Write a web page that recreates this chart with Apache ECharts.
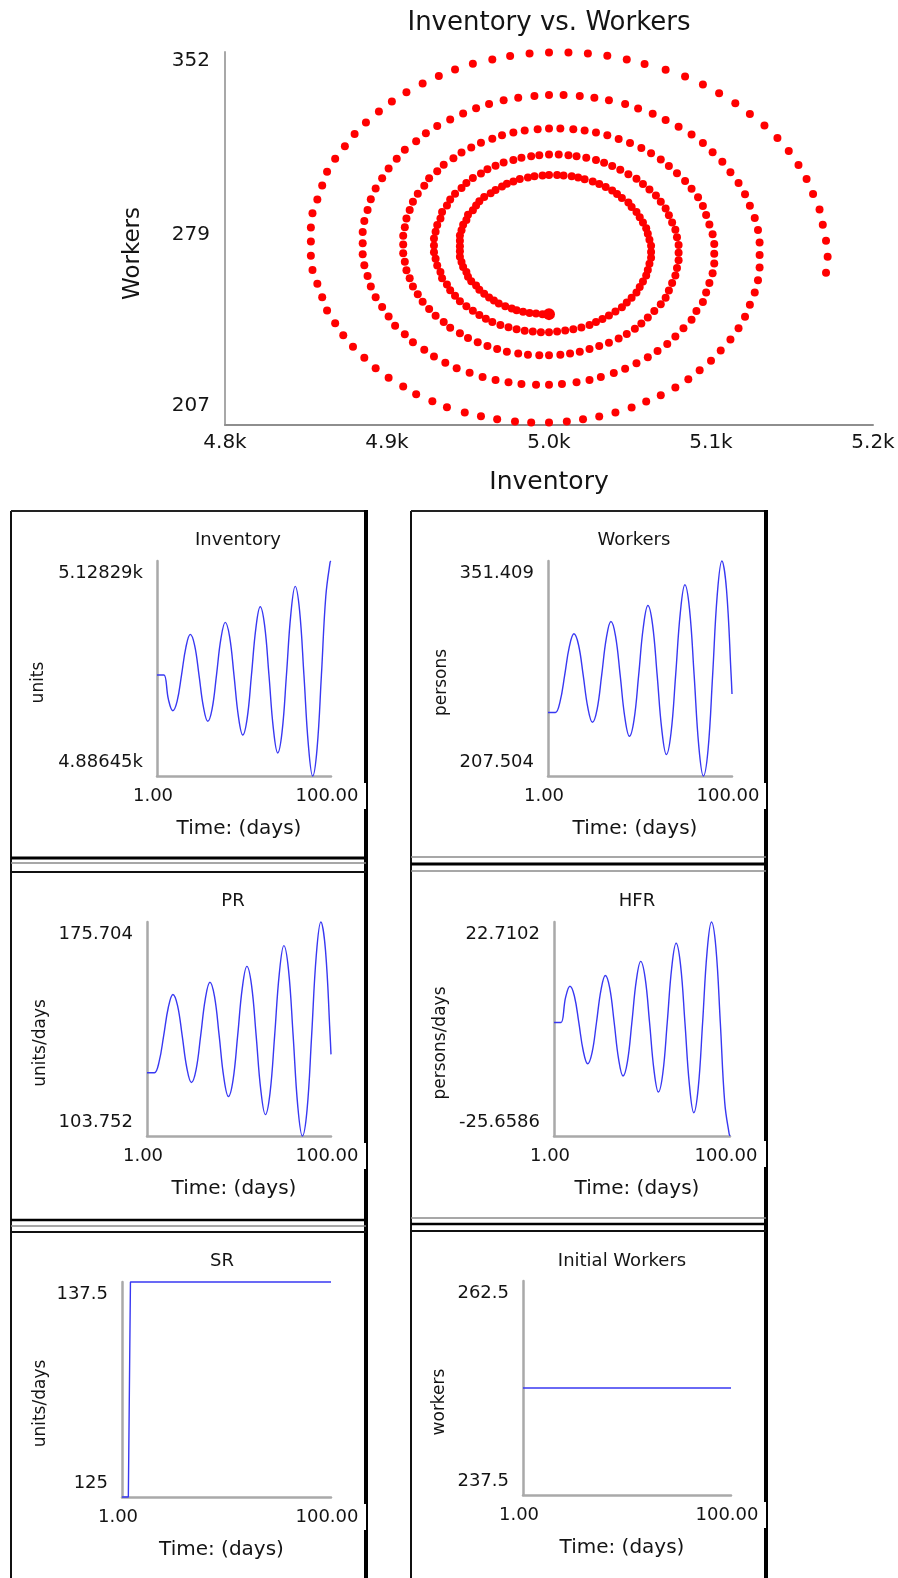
<!DOCTYPE html>
<html>
<head>
<meta charset="utf-8">
<script src="https://cdn.jsdelivr.net/npm/echarts@6/dist/echarts.min.js"></script>
<style>
  html, body { margin: 0; padding: 0; background: #ffffff; }
  #chart { width: 898px; height: 1578px; }
</style>
</head>
<body>
<div id="chart"></div>
<script>
// ---- Phase plot: Inventory (x) against Workers (y), one dot per saved step ----
const phaseInventory = [
  5000,5000,5000,5000,
  5000,4996,4992,4988,4984,4980,4977,4973,4969,4966,4963,4960,4957,4955,4952,4950,4949,4947,4946,4945,4945,4945,4945,4945,4946,4947,4949,4950,4953,4955,4957,4960,4964,4967,4971,4974,4978,4982,4987,4991,4996,
  5000,5005,5009,5014,5018,5022,5027,5031,5035,5039,5042,5045,5049,5051,5054,5056,5058,5060,5061,5062,5063,5063,5063,5062,5061,5060,5058,5056,5054,5051,5048,5045,5041,5037,5033,5029,5025,5020,5015,5010,5005,
  5000,4995,4990,4985,4980,4975,4970,4965,4961,4957,4953,4949,4945,4942,4939,4937,4934,4933,4931,4930,4929,4929,4929,4930,4931,4933,4934,4937,4939,4942,4946,4949,4953,4958,4962,4967,4972,4978,4983,4989,4994,
  5000,5006,5012,5017,5023,5029,5034,5039,5044,5049,5054,5058,5062,5066,5069,5072,5074,5076,5078,5079,5080,5080,5080,5079,5078,5076,5074,5072,5069,5065,5061,5057,5053,5048,5043,5037,5031,5025,5019,5013,5007,
  5000,4994,4987,4981,4974,4968,4962,4956,4950,4945,4939,4935,4930,4926,4922,4919,4916,4914,4912,4911,4910,4910,4910,4911,4912,4914,4916,4919,4923,4926,4931,4935,4941,4946,4952,4958,4965,4971,4978,4985,4993,
  5000,5007,5015,5022,5029,5036,5043,5050,5057,5063,5069,5074,5079,5084,5088,5092,5095,5097,5099,5101,5102,5102,5102,5101,5099,5097,5095,5091,5088,5083,5078,5073,5067,5061,5054,5047,5040,5032,5025,5017,5008,
  5000,4992,4983,4975,4967,4959,4951,4943,4936,4929,4923,4916,4911,4905,4901,4897,4893,4890,4888,4886,4885,4885,4885,4886,4888,4890,4893,4897,4901,4906,4911,4918,4924,4931,4939,4947,4955,4963,4972,4981,4991,
  5000,5009,5019,5028,5037,5047,5055,5064,5072,5080,5088,5095,5101,5107,5112,5117,5121,5124,5127,5129,5130,5130,5130,5129,5127,5124,5121,5117,5112,5106,5100,5093,5086,5078,5069,5060,5051,5041,5031,5021,5011,
  5000,4989,4979,4968,4958,4948,4937,4928,4918,4910,4901,4893,4886,4879,4873,4868,4863,4860,4857,4854,4853,4853,4853,4854,4857,4860,4863,4868,4874,4880,4887,4895,4903,4912,4922,4932,4942,4953,4965,4976,4988,
  5000,5012,5024,5036,5048,5059,5072,5084,5095,5105,5115,5124,5133,5141,5148,5154,5159,5163,5167,5169,5171,5172,5171
];
const phaseWorkers = [
  250.1,250.1,250.1,250.1,
  250.1,250.1,250.3,250.5,251.0,251.6,252.3,253.2,254.2,255.4,256.6,258.0,259.6,261.2,262.9,264.6,266.5,268.4,270.4,272.4,274.5,276.5,278.6,280.7,282.7,284.8,286.7,288.7,290.5,292.3,294.0,295.6,297.1,298.4,299.7,300.8,301.7,302.6,303.2,303.7,304.0,
  304.2,304.2,304.0,303.7,303.2,302.5,301.7,300.7,299.5,298.2,296.8,295.2,293.5,291.7,289.8,287.8,285.7,283.5,281.3,279.0,276.7,274.3,272.0,269.7,267.3,265.1,262.8,260.6,258.5,256.5,254.6,252.8,251.1,249.6,248.2,247.0,245.9,244.9,244.2,243.7,243.3,
  243.1,243.1,243.3,243.6,244.2,245.0,245.9,247.0,248.3,249.8,251.4,253.2,255.1,257.2,259.4,261.6,264.0,266.5,269.0,271.6,274.2,276.8,279.5,282.1,284.7,287.3,289.8,292.3,294.7,296.9,299.1,301.1,303.0,304.8,306.4,307.8,309.0,310.0,310.9,311.5,311.9,
  312.2,312.2,311.9,311.5,310.9,310.0,308.9,307.7,306.2,304.5,302.7,300.7,298.5,296.2,293.8,291.2,288.5,285.7,282.9,280.0,277.0,274.0,271.0,268.0,265.1,262.2,259.3,256.5,253.9,251.3,248.8,246.5,244.4,242.4,240.6,239.0,237.7,236.5,235.5,234.8,234.3,
  234.1,234.1,234.3,234.8,235.5,236.5,237.7,239.2,240.8,242.7,244.8,247.0,249.5,252.1,254.9,257.8,260.8,264.0,267.2,270.5,273.8,277.2,280.6,283.9,287.3,290.6,293.8,296.9,300.0,302.9,305.6,308.2,310.7,312.9,314.9,316.7,318.3,319.6,320.7,321.5,322.0,
  322.3,322.3,322.0,321.5,320.7,319.6,318.2,316.6,314.7,312.6,310.2,307.7,304.9,301.9,298.8,295.5,292.1,288.6,284.9,281.2,277.4,273.6,269.8,266.0,262.2,258.5,254.8,251.3,247.9,244.6,241.4,238.5,235.8,233.3,231.0,228.9,227.2,225.7,224.5,223.6,222.9,
  222.6,222.6,222.9,223.6,224.5,225.7,227.3,229.1,231.2,233.6,236.3,239.2,242.3,245.6,249.2,252.9,256.7,260.8,264.9,269.1,273.4,277.7,282.0,286.3,290.6,294.8,298.9,302.9,306.7,310.5,314.0,317.3,320.4,323.2,325.8,328.1,330.1,331.8,333.2,334.2,334.9,
  335.3,335.3,334.9,334.2,333.2,331.8,330.0,328.0,325.6,322.9,319.9,316.6,313.0,309.3,305.3,301.1,296.7,292.2,287.5,282.8,277.9,273.1,268.2,263.3,258.5,253.7,249.1,244.6,240.2,236.0,232.0,228.3,224.8,221.6,218.6,216.1,213.8,211.9,210.3,209.2,208.4,
  208.0,208.0,208.4,209.2,210.4,211.9,213.9,216.2,219.0,222.0,225.4,229.1,233.1,237.4,241.9,246.6,251.5,256.7,261.9,267.3,272.8,278.3,283.8,289.3,294.7,300.1,305.4,310.5,315.4,320.1,324.6,328.9,332.8,336.4,339.8,342.7,345.2,347.4,349.1,350.4,351.4,
  351.8,351.8,351.4,350.5,349.1,347.3,345.1,342.5,339.4,336.0,332.1,327.9,323.4,318.6,313.5,308.1,302.6,296.8,290.8,284.8,278.6,272.4,266.2
];
const inventoryTicks = [4800, 4900, 5000, 5100, 5200];
const inventoryTickText = ['4.8k', '4.9k', '5.0k', '5.1k', '5.2k'];
const workerTicks = [207, 279.5, 352];
const workerTickText = ['207', '279', '352'];

// ---- Time series (days) ----
const days = [1, 3, 5, 7.49, 9.98, 12.46, 14.95, 17.44, 19.93, 22.41, 24.9, 27.39, 29.88, 32.36, 34.85, 37.34,
  39.83, 42.31, 44.8, 47.29, 49.78, 52.26, 54.75, 57.24, 59.73, 62.21, 64.7, 67.19, 69.68, 72.16, 74.65,
  77.14, 79.63, 82.11, 84.6, 87.09, 89.58, 92.06, 94.55, 97.04, 99.53, 100];
const inventory = [5000, 5000, 5000, 4972.6, 4959.9, 4970.7, 5000, 5031.2, 5045.7, 5033.4, 5000, 4964.4, 4948.0,
  4962.0, 5000, 5040.6, 5059.3, 5043.3, 5000, 4953.8, 4932.5, 4950.7, 5000, 5052.6, 5076.9, 5056.1, 5000,
  4940.0, 4912.4, 4936.0, 5000, 5068.3, 5099.8, 5072.9, 5000, 4922.2, 4886.45, 4917.0, 5000, 5088.6, 5127.2, 5128.29];
const workers = [250, 250, 250, 257.3, 275.0, 293.9, 302.7, 295.2, 275.0, 253.4, 243.5, 252.0, 275.0, 299.6,
  310.9, 301.2, 275.0, 247.0, 234.1, 245.1, 275.0, 306.9, 321.6, 309.0, 275.0, 238.7, 221.9, 236.3, 275.0,
  316.4, 335.5, 319.2, 275.0, 227.8, 207.504, 224.7, 275.0, 328.7, 351.409, 332.3, 275.0, 262.4];
const productionRate = [125, 125, 125, 128.65, 137.5, 146.95, 151.35, 147.6, 137.5, 126.7, 121.75, 126.0, 137.5,
  149.8, 155.45, 150.6, 137.5, 123.5, 117.05, 122.55, 137.5, 153.45, 160.8, 154.5, 137.5, 119.35, 110.95,
  118.15, 137.5, 158.2, 167.75, 159.6, 137.5, 113.9, 103.752, 112.35, 137.5, 164.35, 175.704, 166.15, 137.5, 131.2];
const hiringRate = [0, 0, 0, 5.61, 8.20, 5.99, 0, -6.39, -9.34, -6.82, 0, 7.28, 10.63, 7.77, 0, -8.29, -12.11,
  -8.85, 0, 9.44, 13.80, 10.08, 0, -10.76, -15.72, -11.48, 0, 12.25, 17.90, 13.08, 0, -13.95, -20.39, -14.89,
  0, 15.90, 22.7102, 16.96, 0, -18.11, -25.2, -25.6586];
const salesDays = [1, 4, 5, 100];
const salesRate = [125, 125, 137.5, 137.5];
const initialDays = [1, 100];
const initialWorkers = [250, 250];
const timeTicks = [1, 100];
const timeTickText = ['1.00', '100.00'];

const panels = [
  { title: 'Inventory', unit: 'units', t: days, v: inventory, range: [4886.45, 5128.29], rangeText: ['4.88645k', '5.12829k'], smooth: true },
  { title: 'Workers', unit: 'persons', t: days, v: workers, range: [207.504, 351.409], rangeText: ['207.504', '351.409'], smooth: true },
  { title: 'PR', unit: 'units/days', t: days, v: productionRate, range: [103.752, 175.704], rangeText: ['103.752', '175.704'], smooth: true },
  { title: 'HFR', unit: 'persons/days', t: days, v: hiringRate, range: [-25.6586, 22.7102], rangeText: ['-25.6586', '22.7102'], smooth: true },
  { title: 'SR', unit: 'units/days', t: salesDays, v: salesRate, range: [125, 137.5], rangeText: ['125', '137.5'], smooth: false },
  { title: 'Initial Workers', unit: 'workers', t: initialDays, v: initialWorkers, range: [237.5, 262.5], rangeText: ['237.5', '262.5'], smooth: false }
];

// ---- Layout ----
const FONT = 'DejaVu Sans';
const INK = '#141414';
const panelLayout = [
  { grid: { left: 157, top: 561, width: 174, height: 215 }, nameGap: 110, titleAt: [238, 540] },
  { grid: { left: 548, top: 561, width: 184, height: 215 }, nameGap: 98, titleAt: [634, 540] },
  { grid: { left: 147, top: 922, width: 184, height: 214 }, nameGap: 98, titleAt: [233, 901] },
  { grid: { left: 554, top: 922, width: 176, height: 214 }, nameGap: 105, titleAt: [637, 901] },
  { grid: { left: 122, top: 1282, width: 209, height: 215 }, nameGap: 73, titleAt: [222, 1261] },
  { grid: { left: 523, top: 1281, width: 208, height: 214 }, nameGap: 75, titleAt: [622, 1261] }
];
// window columns: vertical edges plus the horizontal rules between stacked windows
const columns = [
  { left: 11, right: 366, top: 511,
    rules: [ { y: 858, w: 3, c: '#000' }, { y: 863, w: 1.5, c: '#8a8a8a' }, { y: 872, w: 2, c: '#111' },
             { y: 1220, w: 2.5, c: '#000' }, { y: 1226, w: 1.5, c: '#8a8a8a' }, { y: 1232, w: 2, c: '#111' } ],
    notches: [796, 1156, 1517] },
  { left: 411, right: 766, top: 511,
    rules: [ { y: 857, w: 1.5, c: '#8a8a8a' }, { y: 864, w: 3, c: '#000' }, { y: 871, w: 1.5, c: '#8a8a8a' },
             { y: 1218, w: 1.5, c: '#8a8a8a' }, { y: 1224, w: 2.5, c: '#000' }, { y: 1231, w: 2, c: '#111' } ],
    notches: [796, 1154, 1515] }
];

function findIndex(list, v) {
  return list.findIndex(t => Math.abs(t - v) < 1e-6);
}
function textStyle(size) {
  return { fontFamily: FONT, fontSize: size, fontWeight: 'normal', color: INK };
}
// min / max labels sit just inside the ends of a vertical axis
function edgeLabels(values, texts, size, padHi, padLo, margin) {
  const last = values.length - 1;
  return {
    customValues: values,
    margin: margin,
    formatter: function (v) {
      const i = findIndex(values, v);
      if (i < 0) return '';
      const key = i === last ? 'hi' : (i === 0 ? 'lo' : 'mid');
      return '{' + key + '|' + texts[i] + '}';
    },
    rich: {
      hi: Object.assign(textStyle(size), { padding: [padHi, 0, 0, 0] }),
      lo: Object.assign(textStyle(size), { padding: [0, 0, padLo, 0] }),
      mid: Object.assign(textStyle(size), { padding: [0, 0, 8, 0] })
    }
  };
}
function bottomLabels(values, texts, size, margin, shiftLeft) {
  return {
    customValues: values,
    margin: margin,
    formatter: function (v) {
      const i = findIndex(values, v);
      return i < 0 ? '' : '{t|' + texts[i] + '}';
    },
    rich: { t: Object.assign(textStyle(size), { padding: [0, shiftLeft * 2, 0, 0] }) }
  };
}

const grids = [], xAxes = [], yAxes = [], series = [], titles = [], graphics = [];

// phase plot
grids.push({ left: 225, top: 52, width: 648, height: 373, outerBoundsMode: 'none', containLabel: false });
xAxes.push({
  gridIndex: 0, type: 'value', min: 4800, max: 5200,
  name: 'Inventory', nameLocation: 'middle', nameGap: 45, nameTextStyle: textStyle(25),
  axisLine: { show: true, onZero: false, lineStyle: { color: '#8e8e8e', width: 2 } },
  axisTick: { show: false }, splitLine: { show: false },
  axisLabel: bottomLabels(inventoryTicks, inventoryTickText, 20, 8, 0)
});
yAxes.push({
  gridIndex: 0, type: 'value', min: 207, max: 352,
  name: 'Workers', nameLocation: 'middle', nameGap: 80,
  nameTextStyle: Object.assign(textStyle(23), { padding: [0, 30, 0, 0] }),
  axisLine: { show: true, onZero: false, lineStyle: { color: '#a8a8a8', width: 2 } },
  axisTick: { show: false }, splitLine: { show: false },
  axisLabel: edgeLabels(workerTicks, workerTickText, 20, 18, 38, 15)
});
series.push({
  type: 'scatter', xAxisIndex: 0, yAxisIndex: 0, clip: false, silent: true,
  data: phaseInventory.map((x, i) => [x, phaseWorkers[i]]),
  symbolSize: (val, p) => (p.dataIndex === 0 ? 12 : 8),
  itemStyle: { color: '#ff0000', opacity: 1 }
});
titles.push({
  text: 'Inventory vs. Workers', left: 549, top: 23, padding: 0,
  textAlign: 'center', textVerticalAlign: 'middle', textStyle: textStyle(26)
});

// six time-series panels
panels.forEach((p, i) => {
  const lay = panelLayout[i];
  const g = i + 1;
  grids.push(Object.assign({ outerBoundsMode: 'none', containLabel: false }, lay.grid));
  xAxes.push({
    gridIndex: g, type: 'value', min: 1, max: 100,
    name: 'Time: (days)', nameLocation: 'middle', nameGap: 43,
    nameTextStyle: Object.assign(textStyle(20), { padding: [0, 10, 0, 0] }),
    axisLine: { show: true, onZero: false, lineStyle: { color: '#a9a9a9', width: 2.5 } },
    axisTick: { show: false }, splitLine: { show: false },
    axisLabel: bottomLabels(timeTicks, timeTickText, 18, 11, 4)
  });
  yAxes.push({
    gridIndex: g, type: 'value', min: p.range[0], max: p.range[1],
    name: p.unit, nameLocation: 'middle', nameGap: lay.nameGap,
    nameTextStyle: Object.assign(textStyle(17), { padding: [0, 28, 0, 0] }),
    axisLine: { show: true, onZero: false, lineStyle: { color: '#a9a9a9', width: 2.5 } },
    axisTick: { show: false }, splitLine: { show: false },
    axisLabel: edgeLabels(p.range, p.rangeText, 18, 24, 28, 14)
  });
  series.push({
    type: 'line', xAxisIndex: g, yAxisIndex: g, clip: false, silent: true,
    data: p.t.map((t, k) => [t, p.v[k]]),
    showSymbol: false, smooth: p.smooth ? 0.4 : false,
    lineStyle: { color: '#3838f2', width: 1.4 }
  });
  titles.push({
    text: p.title, left: lay.titleAt[0], top: lay.titleAt[1], padding: 0,
    textAlign: 'center', textVerticalAlign: 'middle', textStyle: textStyle(18)
  });
});

// window edges
columns.forEach(c => {
  graphics.push({ type: 'line', silent: true, z: 10, shape: { x1: c.left, y1: c.top, x2: c.left, y2: 1578 },
    style: { stroke: '#111', lineWidth: 2 } });
  graphics.push({ type: 'line', silent: true, z: 10, shape: { x1: c.left, y1: c.top, x2: c.right, y2: c.top },
    style: { stroke: '#222', lineWidth: 2 } });
  graphics.push({ type: 'line', silent: true, z: 10, shape: { x1: c.right, y1: c.top - 1, x2: c.right, y2: 1578 },
    style: { stroke: '#000', lineWidth: 4 } });
  c.rules.forEach(r => {
    graphics.push({ type: 'line', silent: true, z: 10, shape: { x1: c.left, y1: r.y, x2: c.right, y2: r.y },
      style: { stroke: r.c, lineWidth: r.w } });
  });
  // the "100.00" label box overlaps the inner half of the right edge
  c.notches.forEach(y => {
    graphics.push({ type: 'rect', silent: true, z: 11, shape: { x: c.right - 2.5, y: y - 13, width: 2.5, height: 26 },
      style: { fill: '#ffffff' } });
  });
});

const chart = echarts.init(document.getElementById('chart'), null, { renderer: 'canvas', width: 898, height: 1578 });
chart.setOption({
  backgroundColor: '#ffffff',
  animation: false,
  textStyle: { fontFamily: FONT },
  title: titles,
  grid: grids,
  xAxis: xAxes,
  yAxis: yAxes,
  series: series,
  graphic: graphics
});
</script>
</body>
</html>
